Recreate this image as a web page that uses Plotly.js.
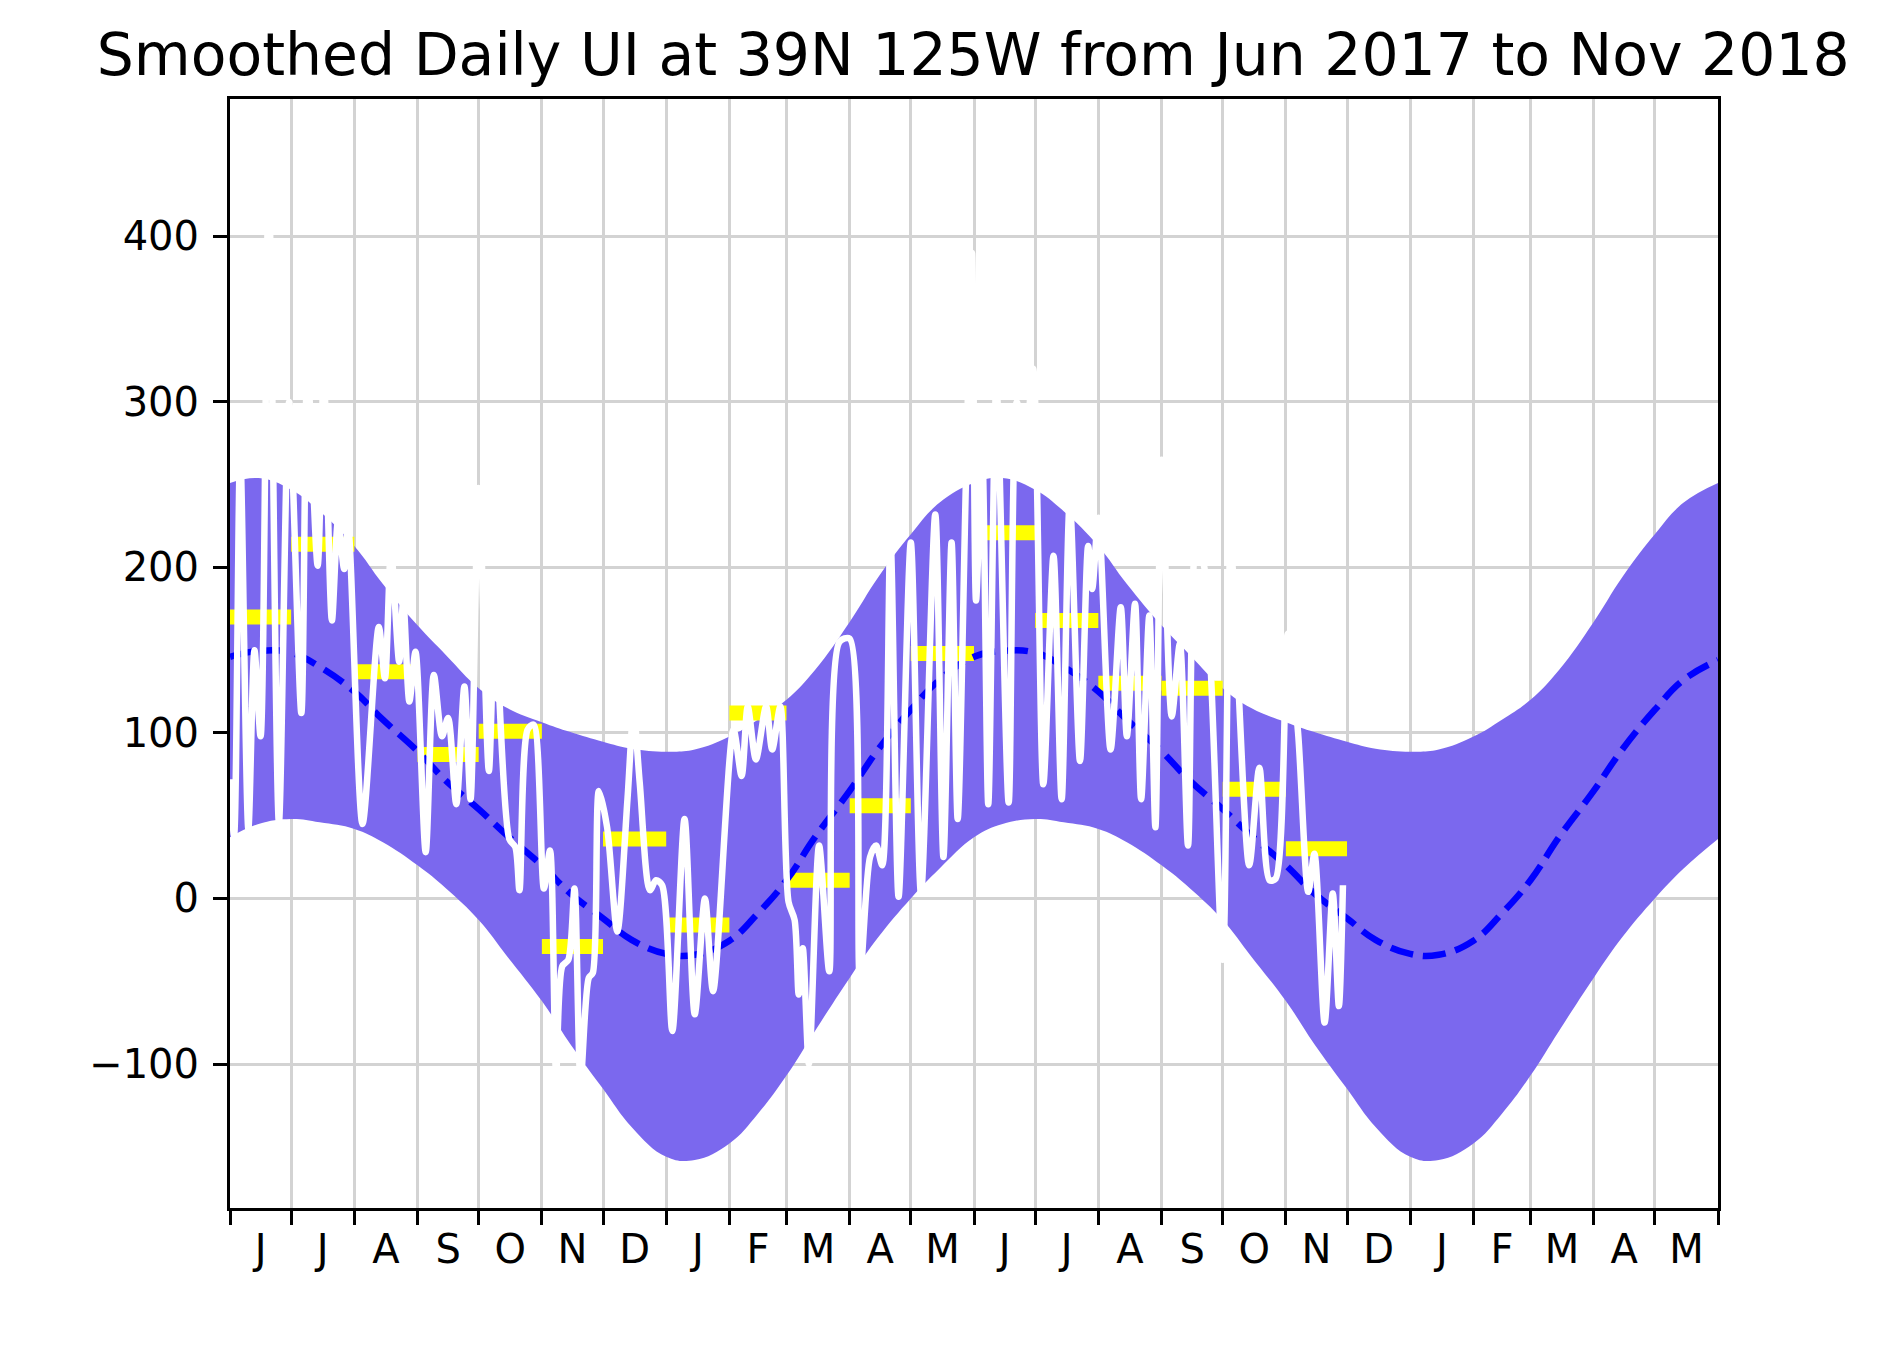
<!DOCTYPE html>
<html>
<head>
<meta charset="utf-8">
<script src="https://cdn.plot.ly/plotly-3.0.1.min.js"></script>
<style>
  html, body { margin: 0; padding: 0; background: #ffffff; }
  #chart { width: 1880px; height: 1357px; }
</style>
</head>
<body>
<div id="chart"></div>
<script>
// ---------------- data ----------------
const chartTitle = 'Smoothed Daily UI at 39N 125W from Jun 2017 to Nov 2018';

// x-axis month letters, Jun 2017 .. May 2019
const tickLetters = ['J','J','A','S','O','N','D','J','F','M','A','M',
                     'J','J','A','S','O','N','D','J','F','M','A','M'];

// y tick values and labels
const yTickVals = [-100, 0, 100, 200, 300, 400];
const yTickText = ['\u2212100', '0', '100', '200', '300', '400'];

// climatology band and mean, 1st and 15th of each month from 2017-06-01 to 2019-06-01
const climUpper = [251,254,247,234,213,190,165,147,127,115,106.5,100.5,94.7,90.5,88.7,90,97.8,108,120,138,167,194,220,239,
                   251,254,247,234,213,190,165,147,127,115,106.5,100.5,94.7,90.5,88.7,90,97.8,108,120,138,167,194,220,239,
                   251];
const climLower = [37,45,48,46,42,34,20,6,-13,-35,-62,-88,-115,-138,-156,-158,-148,-130,-107,-80,-48,-23.5,0,18,
                   37,45,48,46,42,34,20,6,-13,-35,-62,-88,-115,-138,-156,-158,-148,-130,-107,-80,-48,-23.5,0,18,
                   36];
const climMean  = [146,149.5,148.5,140,125,108,89,71,54,38,20,3,-12,-25,-33.5,-34,-25.5,-9,11,37,65,90,114,132,
                   146,149.5,148.5,140,125,108,89,71,54,38,20,3,-12,-25,-33.5,-34,-25.5,-9,11,37,65,90,114,132,
                   144];

// monthly means (yellow bars), Jun 2017 .. Nov 2018
const monthlyUI = [170,214,137,87,101,-29,36,-16,112,11,56,148,221,168,130,127,66,30];

// smoothed daily UI (white line): day offset from 2017-06-01 and value
const dailyDay = [0,2,5,9,12,15,19,24,29,35,38,43,46,50,53,56,58,65,73,76,79,83,85,88,91,96,
                  100,104,107,111,115,118,122,127,130,137,140,142,146,149,154,157,160,163,166,169,172,176,178,181,185,190,
                  195,198,201,206,209,212,217,223,228,233,237,247,251,254,258,263,266,270,274,277,279,281,284,
                  289,294,299,304,309,314,317,320,324,328,334,339,346,350,354,357,361,364,366,369,372,
                  376,382,386,390,394,399,404,408,412,417,421,423,426,432,437,440,444,447,451,454,457,462,466,470,
                  474,478,487,491,500,505,510,513,519,524,529,532,537,541,544,546];
const dailyUI  = [72,38,270,42,150,98,430,46,300,112,320,201,315,168,228,199,224,45,164,133,210,143,180,119,149,28,
                  135,98,109,57,128,60,248,77,165,36,31,5,102,105,6,29,-105,-41,-37,6,-110,-48,-45,65,43,-20,
                  60,112,70,5,11,8,-80,48,-70,0,-56,102,74,116,84,116,90,116,-2,-13,-58,-30,-100,
                  32,-44,155,157,-48,25,32,20,218,1,215,3,232,25,215,48,250,390,180,270,57,
                  310,58,300,270,320,69,207,60,240,83,213,187,230,90,176,98,178,60,171,43,265,110,154,32,
                  215,200,-37,210,20,79,11,12,160,100,4,27,-75,3,-65,8];

// ---------------- helpers ----------------
const DAY = 86400000;
const t0 = Date.UTC(2017, 5, 1);
function iso(ms) { return new Date(ms).toISOString().slice(0, 19).replace('T', ' '); }
function monthStart(i) { return Date.UTC(2017, 5 + i, 1); }

const climDates = [];
for (let m = 0; m < 24; m++) {
  climDates.push(iso(Date.UTC(2017, 5 + m, 1)));
  climDates.push(iso(Date.UTC(2017, 5 + m, 15)));
}
climDates.push(iso(Date.UTC(2019, 5, 1)));

const dailyDates = dailyDay.map(d => iso(t0 + d * DAY));

const barX = [], barY = [];
monthlyUI.forEach((v, i) => {
  barX.push(iso(monthStart(i)), iso(monthStart(i + 1)), null);
  barY.push(v, v, null);
});

const midMonth = tickLetters.map((_, i) => iso((monthStart(i) + monthStart(i + 1)) / 2));
const monthBounds = tickLetters.map((_, i) => iso(monthStart(i))).concat([iso(monthStart(24))]);

// ---------------- traces ----------------
const bandColor = '#7B68EE';
const traces = [
  { x: climDates, y: climLower, type: 'scatter', mode: 'lines',
    line: { width: 0, shape: 'spline', smoothing: 1.2, color: bandColor }, hoverinfo: 'skip', showlegend: false },
  { x: climDates, y: climUpper, type: 'scatter', mode: 'lines', fill: 'tonexty', fillcolor: bandColor,
    line: { width: 0, shape: 'spline', smoothing: 1.2, color: bandColor }, hoverinfo: 'skip', showlegend: false },
  { x: barX, y: barY, type: 'scatter', mode: 'lines',
    line: { width: 15, color: '#FFFF00' }, showlegend: false },
  { x: climDates, y: climMean, type: 'scatter', mode: 'lines',
    line: { width: 6.5, color: '#0000FF', dash: '23px,10px', shape: 'spline', smoothing: 1.2 }, showlegend: false },
  { x: dailyDates, y: dailyUI, type: 'scatter', mode: 'lines',
    line: { width: 6.5, color: '#FFFFFF', shape: 'spline', smoothing: 0.8 }, showlegend: false }
];

const font = 'DejaVu Sans, Liberation Sans, sans-serif';
const layout = {
  width: 1880, height: 1357,
  margin: { l: 230, r: 162, t: 99, b: 149 },
  paper_bgcolor: '#ffffff', plot_bgcolor: '#ffffff',
  font: { family: font, size: 40, color: '#000000' },
  title: { text: chartTitle, font: { family: font, size: 58.4, color: '#000000' },
           x: 0.4995, xref: 'paper', xanchor: 'center', y: 1 - 55 / 1357, yref: 'container', yanchor: 'middle' },
  showlegend: false,
  xaxis: {
    type: 'date',
    range: [iso(monthStart(0)), iso(monthStart(24))],
    tickmode: 'array', tickvals: midMonth, ticktext: tickLetters,
    ticks: '', showgrid: false, zeroline: false,
    tickfont: { family: font, size: 40, color: '#000000' },
    ticklabelstandoff: 4,
    showline: true, linecolor: '#000000', linewidth: 3, mirror: true,
    minor: { tickmode: 'array', tickvals: monthBounds, ticks: 'outside', ticklen: 14, tickwidth: 3,
             tickcolor: '#000000', showgrid: true, gridcolor: '#D3D3D3', gridwidth: 3 }
  },
  yaxis: {
    range: [-187, 483],
    tickmode: 'array', tickvals: yTickVals, ticktext: yTickText,
    ticks: 'outside', ticklen: 14, tickwidth: 3, tickcolor: '#000000',
    tickfont: { family: font, size: 40, color: '#000000' },
    ticklabelstandoff: 6,
    showgrid: true, gridcolor: '#D3D3D3', gridwidth: 3, zeroline: false,
    showline: true, linecolor: '#000000', linewidth: 3, mirror: true
  }
};

Plotly.newPlot('chart', traces, layout, { staticPlot: true, displayModeBar: false });
</script>
</body>
</html>
